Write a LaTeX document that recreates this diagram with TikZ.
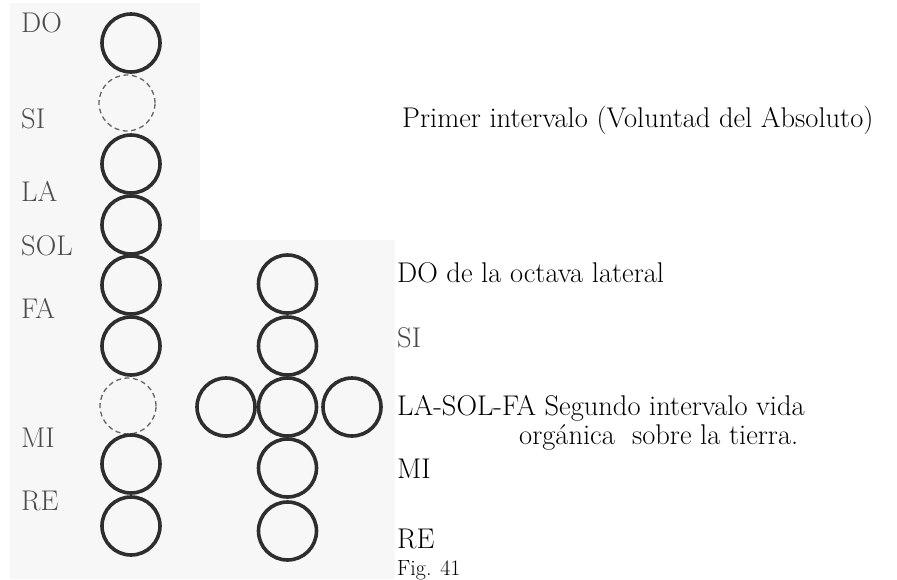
\documentclass[tikz,border=0pt]{standalone}
\usepackage{fontspec}
\begin{document}
\begin{tikzpicture}[x=1pt,y=-1pt,
  ring/.style={circle,draw=black!82,line width=3.6pt,minimum size=58pt,inner sep=0pt},
  gapring/.style={circle,draw=black!60,line width=1.3pt,dash pattern=on 5pt off 3.5pt,minimum size=56pt,inner sep=0pt},
  lab/.style={anchor=base west,inner sep=0pt,font=\fontsize{28.5}{32}\selectfont\addfontfeatures{FakeBold=0.8},text=black!70},
  txt/.style={anchor=base west,inner sep=0pt,font=\fontsize{28.5}{32}\selectfont\addfontfeatures{FakeBold=1.2},text=black},
  small/.style={anchor=base west,inner sep=0pt,font=\fontsize{22}{25}\selectfont\addfontfeatures{FakeBold=1},text=black}]
\useasboundingbox (0,0) rectangle (897,579);
% background panels
\fill[black!3] (10,3) rectangle (200,579);
\fill[black!3] (200,240) rectangle (395,579);
% left column
\node[ring] (l1) at (131,43) {};
\node[gapring] (l2) at (127,103) {};
\node[ring] (l3) at (131,164) {};
\node[ring] (l4) at (131,225) {};
\node[ring] (l5) at (131,285) {};
\node[ring] (l6) at (131,346) {};
\node[gapring] (l7) at (128,406) {};
\node[ring] (l8) at (131,464) {};
\node[ring] (l9) at (131,526) {};
% cross
\node[ring] (c1) at (287.5,284) {};
\node[ring] (c2) at (287.5,346) {};
\node[ring] (c3) at (287.5,407) {};
\node[ring] (cl) at (226,407) {};
\node[ring] (cr) at (352,407) {};
\node[ring] (c4) at (287.5,468) {};
\node[ring] (c5) at (287.5,531) {};
% left labels
\node[lab] (tDO) at (21,32) {DO};
\node[lab] (tSI) at (21,128) {SI};
\node[lab] (tLA) at (21,201) {LA};
\node[lab] (tSOL) at (21,255) {SOL};
\node[lab] (tFA) at (21,318) {FA};
\node[lab] (tMI) at (21,447) {MI};
\node[lab] (tRE) at (21,510) {RE};
% right texts
\node[txt] (r1) at (402,127) {Primer intervalo (Voluntad del Absoluto)};
\node[txt] (r2) at (397,282) {DO de la octava lateral};
\node[txt,text=black!72] (r3) at (397,347) {SI};
\node[txt] (r4) at (397,415) {LA-SOL-FA Segundo intervalo vida};
\node[txt] (r5) at (519,444) {orgánica\ \ sobre la tierra.};
\node[txt] (r6) at (397,478) {MI};
\node[txt] (r7) at (397,548) {RE};
\node[small] (fig) at (397,575) {Fig. 41};
\end{tikzpicture}
\end{document}
